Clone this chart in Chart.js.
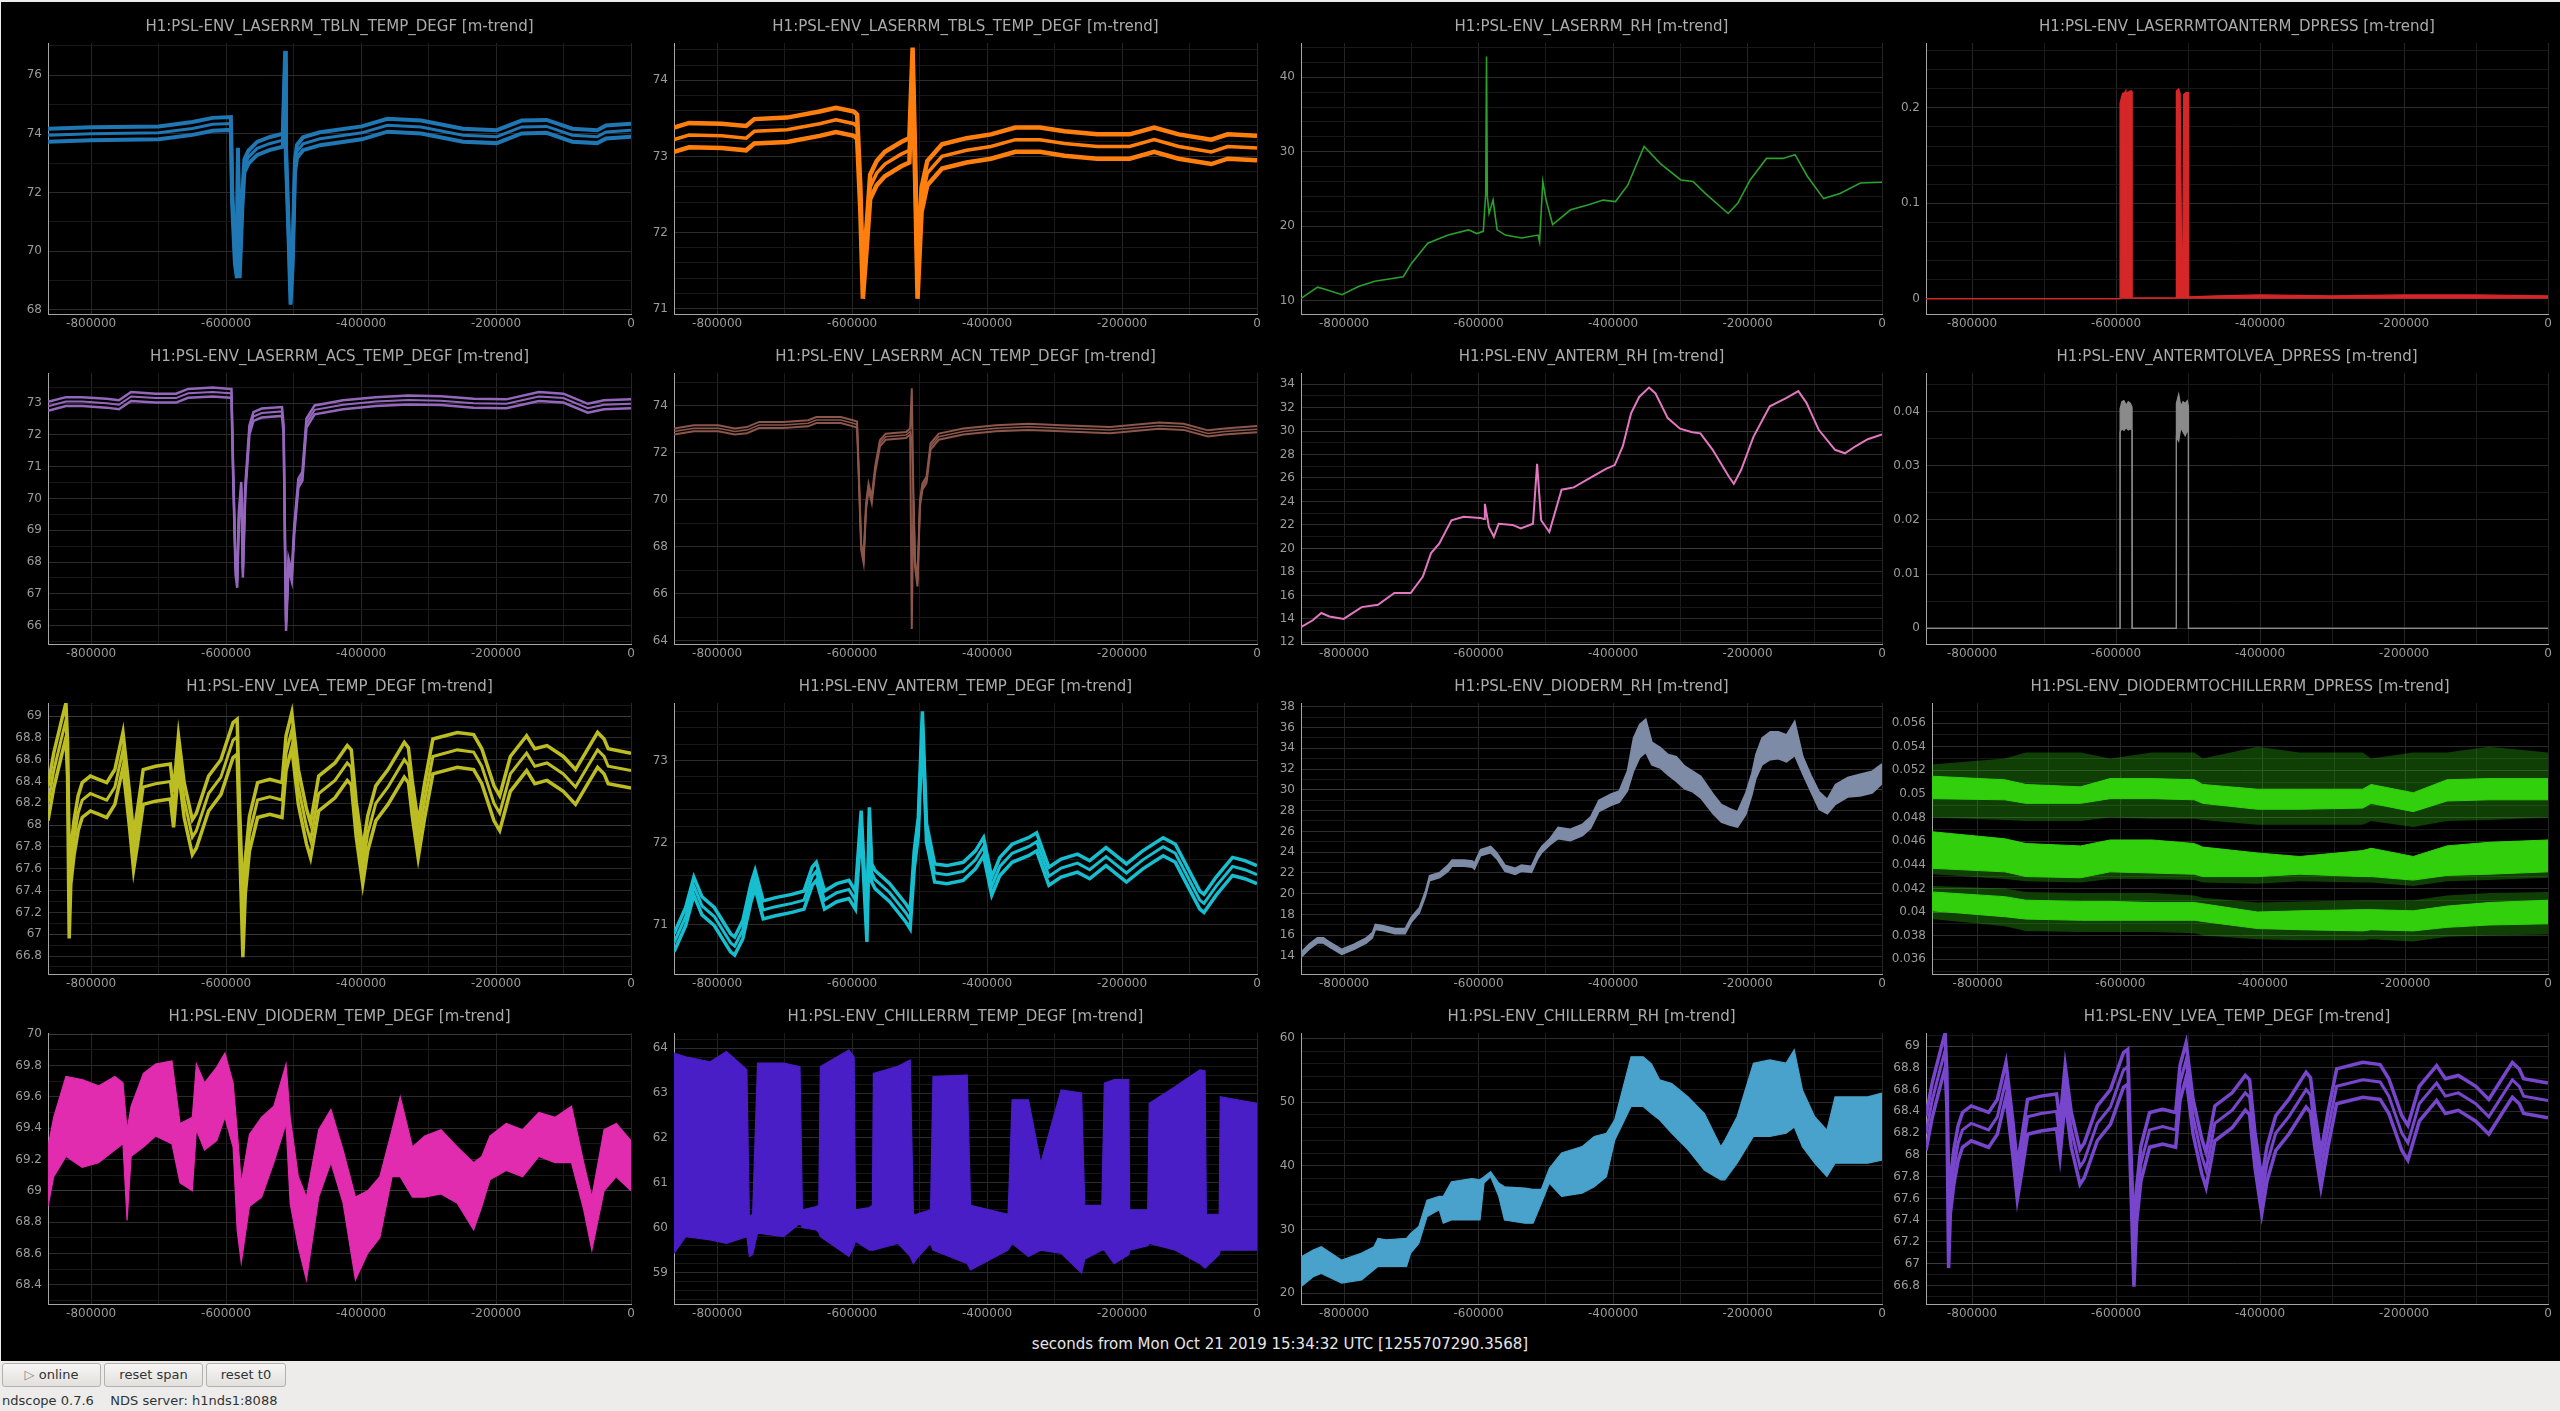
<!DOCTYPE html>
<html>
<head>
<meta charset="utf-8">
<title>ndscope</title>
<script src="https://cdn.jsdelivr.net/npm/chart.js@4.4.1/dist/chart.umd.min.js"></script>
<style>
  html, body { margin: 0; padding: 0; width: 2560px; height: 1411px; overflow: hidden;
    background: #edeceb; font-family: 'DejaVu Sans', sans-serif; }
  #scope { position: absolute; left: 1px; top: 2px; width: 2559px; height: 1359px; background: #000; }
  canvas.panel { position: absolute; }
  #xlabel { position: absolute; left: 0; top: 1335px; width: 2560px; text-align: center;
    color: #e6e6e6; font-size: 15px; line-height: 18px; }
  .btn { position: absolute; top: 1363px; height: 24px; box-sizing: border-box;
    border: 1px solid #b4b1ac; border-radius: 3px; background: linear-gradient(#f7f6f5, #e2e0dd);
    font-size: 13px; line-height: 22px; color: #2e3436; text-align: center; }
  #status { position: absolute; left: 2px; top: 1393px; font-size: 13px; color: #2e3436; white-space: pre; }
</style>
</head>
<body>
<div id="scope"></div>
<div id="xlabel">seconds from Mon Oct 21 2019 15:34:32 UTC [1255707290.3568]</div>
<div class="btn" style="left:2px;width:99px"><span style="color:#888">&#9655;</span> online</div>
<div class="btn" style="left:104px;width:99px">reset span</div>
<div class="btn" style="left:206px;width:80px">reset t0</div>
<div id="status">ndscope 0.7.6    NDS server: h1nds1:8088</div>
<script>
const FONT = "'DejaVu Sans', sans-serif"
Chart.defaults.font.family = FONT

// ---- time axis (seconds before t0) ----
const X_MIN = -864000
const X_LABELS = [-800000, -600000, -400000, -200000, 0]
const X_GRID = [-800000, -700000, -600000, -500000, -400000, -300000, -200000, -100000, 0]

// ---- LASERRM_TBLN_TEMP ----
const tblnX = [-864000,-800000,-700000,-650000,-620000,-593000,-591000,-587000,-584000,-582500,-580000,-576000,-573000,-567000,-554000,-536000,-516000,-512500,-511500,-507500,-504500,-501500,-498000,-495000,-486000,-461000,-399000,-361000,-311000,-249000,-199000,-162000,-125000,-87000,-50000,-37000,0]
const tblnMax = [74.17,74.22,74.25,74.4,74.54,74.57,72.02,70.02,69.52,73.52,69.52,71.92,73.12,73.42,73.72,73.88,74.0,76.82,73.72,70.92,68.62,69.92,73.12,73.62,73.88,74.05,74.25,74.51,74.45,74.17,74.12,74.45,74.47,74.17,74.12,74.28,74.34]
const tblnMean = [73.95,74.0,74.03,74.18,74.32,74.35,71.8,69.8,69.3,73.3,69.3,71.7,72.9,73.2,73.5,73.66,73.78,76.6,73.5,70.7,68.4,69.7,72.9,73.4,73.66,73.83,74.03,74.29,74.23,73.95,73.9,74.23,74.25,73.95,73.9,74.06,74.12]
const tblnMin = [73.73,73.78,73.81,73.96,74.1,74.13,71.58,69.58,69.08,73.08,69.08,71.48,72.68,72.98,73.28,73.44,73.56,76.38,73.28,70.48,68.18,69.48,72.68,73.18,73.44,73.61,73.81,74.07,74.01,73.73,73.68,74.01,74.03,73.73,73.68,73.84,73.9]

// ---- LASERRM_TBLS_TEMP ----
const tblsX = [-864000,-841700,-793400,-757100,-745000,-696600,-648200,-624000,-597400,-592600,-587800,-584100,-578100,-573300,-563600,-551500,-527300,-515200,-510400,-506700,-503100,-497100,-488600,-466800,-430500,-394300,-358000,-321700,-285400,-237000,-188700,-152400,-116100,-67700,-43500,0]
const tblsMax = [73.38,73.44,73.43,73.4,73.49,73.51,73.59,73.64,73.59,73.55,72.59,71.45,72.15,72.76,72.94,73.06,73.19,73.24,74.43,73.03,71.45,72.59,72.94,73.16,73.24,73.29,73.38,73.38,73.33,73.29,73.29,73.38,73.29,73.22,73.29,73.27]
const tblsMean = [73.22,73.28,73.27,73.24,73.33,73.35,73.43,73.48,73.43,73.39,72.43,71.29,71.99,72.6,72.78,72.9,73.03,73.08,74.27,72.87,71.29,72.43,72.78,73.0,73.08,73.13,73.22,73.22,73.17,73.13,73.13,73.22,73.13,73.06,73.13,73.11]
const tblsMin = [73.06,73.12,73.11,73.08,73.17,73.19,73.27,73.32,73.27,73.23,72.27,71.13,71.83,72.44,72.62,72.74,72.87,72.92,74.11,72.71,71.13,72.27,72.62,72.84,72.92,72.97,73.06,73.06,73.01,72.97,72.97,73.06,72.97,72.9,72.97,72.95]

// ---- LASERRM_RH ----
const lrhX = [-864000,-839300,-827200,-802900,-778600,-754300,-711900,-699800,-675500,-645100,-614800,-602700,-592900,-589300,-588100,-586900,-584400,-578400,-572300,-560200,-535900,-511600,-509200,-504400,-499500,-489800,-463100,-438800,-414500,-396300,-378100,-353800,-329600,-299200,-281000,-262800,-228800,-214300,-196100,-171800,-147500,-129300,-111100,-86800,-62500,-32200,0]
const lrhMean = [10.3,11.8,11.5,10.8,11.9,12.6,13.2,15.0,17.7,18.8,19.5,19.0,19.3,24.4,42.8,24.0,21.7,23.5,19.5,18.8,18.4,18.8,17.9,26.0,23.5,20.2,22.2,22.8,23.5,23.3,25.5,30.7,28.4,26.2,26.0,24.4,21.7,23.1,26.2,29.1,29.1,29.6,26.7,23.7,24.4,25.8,25.9]

// ---- LASERRMTOANTERM_DPRESS ----
const ldpX = [-864000,-594500,-594400,-591000,-588000,-586500,-586000,-585500,-582000,-579000,-577700,-577600,-540000,-516300,-516200,-513000,-511000,-509000,-507500,-506000,-503000,-499400,-499300,-460000,-400000,-300000,-200000,-100000,0]
const ldpMax = [0,0,0.205,0.215,0.216,0.218,0.045,0.216,0.217,0.218,0.217,0.001,0.001,0.001,0.218,0.22,0.215,0.05,0.012,0.214,0.216,0.216,0.002,0.003,0.004,0.003,0.004,0.004,0.003]

// ---- LASERRM_ACS_TEMP ----
const acsX = [-864000,-837400,-813300,-777000,-758900,-740800,-704500,-674300,-656300,-619900,-593300,-592100,-589700,-586000,-583600,-581200,-577600,-575200,-571600,-565500,-559500,-547400,-517200,-514800,-512400,-511200,-507500,-502700,-499100,-493000,-487000,-481000,-468900,-426600,-378200,-329900,-281600,-233200,-184900,-136500,-100300,-64000,-39900,0]
const acsMax = [73.04,73.19,73.19,73.14,73.09,73.35,73.3,73.3,73.45,73.49,73.45,73.45,71.04,67.89,67.47,69.57,70.52,67.79,70.41,72.3,72.72,72.83,72.88,72.3,68.1,66.11,68.1,67.68,69.14,70.62,70.84,72.51,72.93,73.09,73.19,73.24,73.22,73.14,73.12,73.35,73.3,72.98,73.09,73.12]
const acsMean = [72.9,73.05,73.05,73.0,72.95,73.21,73.16,73.16,73.31,73.35,73.31,73.31,70.9,67.75,67.33,69.43,70.38,67.65,70.27,72.16,72.58,72.69,72.74,72.16,67.96,65.97,67.96,67.54,69.0,70.48,70.7,72.37,72.79,72.95,73.05,73.1,73.08,73.0,72.98,73.21,73.16,72.84,72.95,72.98]
const acsMin = [72.76,72.91,72.91,72.86,72.81,73.07,73.02,73.02,73.17,73.21,73.17,73.17,70.76,67.61,67.19,69.29,70.24,67.51,70.13,72.02,72.44,72.55,72.6,72.02,67.82,65.83,67.82,67.4,68.86,70.34,70.56,72.23,72.65,72.81,72.91,72.96,72.94,72.86,72.84,73.07,73.02,72.7,72.81,72.84]

// ---- LASERRM_ACN_TEMP ----
const acnX = [-864000,-834600,-798300,-774100,-756000,-737800,-701500,-665200,-653100,-616800,-598700,-592700,-590200,-586600,-583000,-579400,-575700,-570900,-566000,-558800,-550300,-520100,-514000,-511600,-509200,-506800,-503200,-499500,-495900,-489800,-483800,-471700,-435400,-387000,-338700,-290300,-217700,-145100,-108900,-72600,-48400,0]
const acnMax = [73.03,73.17,73.17,73.03,73.09,73.31,73.31,73.38,73.52,73.52,73.38,73.33,71.25,68.13,67.56,69.83,70.68,70.12,71.39,72.53,72.81,72.88,73.03,74.74,70.26,67.43,66.57,69.97,70.68,70.97,72.39,72.81,73.03,73.17,73.23,73.17,73.09,73.28,73.23,72.95,73.03,73.13]
const acnMean = [72.9,73.04,73.04,72.9,72.96,73.18,73.18,73.25,73.39,73.39,73.25,73.2,71.12,68.0,67.43,69.7,70.55,69.99,71.26,72.4,72.68,72.75,72.9,72.5,70.13,67.3,66.44,69.84,70.55,70.84,72.26,72.68,72.9,73.04,73.1,73.04,72.96,73.15,73.1,72.82,72.9,73.0]
const acnMin = [72.77,72.91,72.91,72.77,72.83,73.05,73.05,73.12,73.26,73.26,73.12,73.07,70.99,67.87,67.3,69.57,70.42,69.86,71.13,72.27,72.55,72.62,72.77,64.5,70.0,67.17,66.31,69.71,70.42,70.71,72.13,72.55,72.77,72.91,72.97,72.91,72.83,73.02,72.97,72.69,72.77,72.87]

// ---- ANTERM_RH ----
const arhX = [-864000,-846000,-833800,-821700,-800500,-773800,-749500,-725200,-700900,-682800,-670600,-658500,-640300,-622100,-597800,-591800,-590600,-584500,-577200,-570000,-549300,-537200,-519000,-512900,-506900,-494700,-476500,-458300,-434000,-409800,-397500,-385400,-373200,-361100,-346500,-336800,-318600,-300400,-282200,-270000,-251800,-227600,-220300,-209400,-191200,-166900,-142600,-124400,-112300,-94100,-69800,-55200,-39400,-21200,0]
const arhMean = [13.3,13.9,14.5,14.2,14.0,15.0,15.2,16.2,16.2,17.6,19.6,20.4,22.4,22.7,22.6,22.5,23.8,21.8,21.0,22.1,22.0,21.7,22.1,27.2,22.4,21.4,25.0,25.2,26.0,26.8,27.1,28.7,31.5,32.9,33.7,33.2,31.1,30.2,29.9,29.8,28.4,26.1,25.5,26.7,29.5,32.1,32.8,33.4,32.4,30.1,28.4,28.1,28.7,29.3,29.7]

// ---- ANTERMTOLVEA_DPRESS ----
const adpX = [-864000,-594500,-594400,-592000,-589000,-586000,-583000,-580000,-577800,-577700,-516300,-516200,-513000,-510000,-507000,-504000,-501000,-499500,-499400,0]
const adpMax = [0,0,0.0405,0.0418,0.042,0.0412,0.0418,0.0415,0.0408,0,0,0.0415,0.0432,0.041,0.0418,0.0415,0.042,0.041,0,0]
const adpMin = [0,0,0.0362,0.0368,0.0365,0.037,0.0366,0.0368,0.0365,0,0,0.0352,0.0345,0.037,0.0362,0.0355,0.0365,0.036,0,0]

// ---- LVEA_TEMP ----
const lveaX = [-864000,-855500,-843500,-837400,-835000,-832600,-830200,-825300,-819300,-813300,-801200,-789100,-777000,-764900,-752900,-743200,-737200,-731200,-722900,-704500,-682700,-677900,-670700,-662200,-650100,-644100,-626000,-607800,-589700,-583700,-580000,-575200,-571600,-565500,-553400,-535300,-517200,-511200,-502700,-493000,-481000,-474900,-462800,-438700,-420500,-414500,-407200,-397600,-390300,-378200,-360100,-336000,-329900,-323900,-315400,-305700,-293600,-257400,-233200,-221100,-203000,-194600,-178800,-154700,-142600,-124500,-100300,-82200,-64000,-49500,-39900,-33800,0]
const lveaMax = [68.36,68.66,68.97,69.12,68.76,67.72,67.78,68.05,68.27,68.39,68.45,68.42,68.39,68.51,68.85,68.3,67.91,68.15,68.51,68.54,68.56,68.3,68.82,68.39,68.05,68.11,68.45,68.6,68.94,68.97,68.15,67.29,67.69,68.08,68.39,68.42,68.39,68.82,69.03,68.51,68.15,68.02,68.45,68.57,68.73,68.69,68.21,67.78,68.08,68.36,68.51,68.76,68.71,68.39,68.02,68.39,68.79,68.85,68.83,68.7,68.36,68.27,68.63,68.82,68.7,68.73,68.63,68.51,68.7,68.85,68.79,68.7,68.66]
const lveaMean = [68.2,68.5,68.81,68.96,68.6,67.56,67.62,67.89,68.11,68.23,68.29,68.26,68.23,68.35,68.69,68.14,67.75,67.99,68.35,68.38,68.4,68.14,68.66,68.23,67.89,67.95,68.29,68.44,68.78,68.81,67.99,67.13,67.53,67.92,68.23,68.26,68.23,68.66,68.87,68.35,67.99,67.86,68.29,68.41,68.57,68.53,68.05,67.62,67.92,68.2,68.35,68.6,68.55,68.23,67.86,68.23,68.63,68.69,68.67,68.54,68.2,68.11,68.47,68.66,68.54,68.57,68.47,68.35,68.54,68.69,68.63,68.54,68.5]
const lveaMin = [68.04,68.34,68.65,68.8,68.44,66.96,67.46,67.73,67.95,68.07,68.13,68.1,68.07,68.19,68.53,67.98,67.59,67.83,68.19,68.22,68.24,67.98,68.5,68.07,67.73,67.79,68.13,68.28,68.62,68.65,67.83,66.79,67.37,67.76,68.07,68.1,68.07,68.5,68.71,68.19,67.83,67.7,68.13,68.25,68.41,68.37,67.89,67.46,67.76,68.04,68.19,68.44,68.39,68.07,67.7,68.07,68.47,68.53,68.51,68.38,68.04,67.95,68.31,68.5,68.38,68.41,68.31,68.19,68.38,68.53,68.47,68.38,68.34]

// ---- ANTERM_TEMP ----
const atX = [-864000,-846700,-834600,-822500,-804300,-780100,-774100,-762000,-749900,-743800,-731800,-713600,-689400,-671300,-659200,-653100,-641000,-622900,-604800,-595100,-586600,-580600,-578100,-574500,-570900,-566000,-544300,-520100,-514000,-508000,-501900,-495900,-489800,-477700,-459600,-435400,-417300,-405200,-393100,-381000,-362900,-338700,-326600,-308400,-290300,-266100,-248000,-223800,-193500,-169300,-139100,-121000,-84700,-78600,-60500,-36300,-18100,0]
const atMax = [70.89,71.21,71.58,71.34,71.21,70.89,70.85,71.05,71.5,71.66,71.29,71.33,71.37,71.41,71.7,71.76,71.41,71.5,71.54,71.41,72.39,71.41,71.01,72.43,71.74,71.66,71.5,71.25,71.17,71.9,72.31,73.6,72.23,71.74,71.72,71.76,71.9,72.06,71.58,71.82,71.98,72.06,72.12,71.7,71.8,71.86,71.78,71.94,71.74,71.9,72.06,71.98,71.41,71.37,71.58,71.82,71.78,71.72]
const atMean = [70.78,71.1,71.47,71.23,71.1,70.78,70.74,70.94,71.39,71.55,71.18,71.22,71.26,71.3,71.59,71.65,71.3,71.39,71.43,71.3,72.28,71.3,70.9,72.32,71.63,71.55,71.39,71.14,71.06,71.79,72.2,73.49,72.12,71.63,71.61,71.65,71.79,71.95,71.47,71.71,71.87,71.95,72.01,71.59,71.69,71.75,71.67,71.83,71.63,71.79,71.95,71.87,71.3,71.26,71.47,71.71,71.67,71.61]
const atMin = [70.67,70.99,71.36,71.12,70.99,70.67,70.63,70.83,71.28,71.44,71.07,71.11,71.15,71.19,71.48,71.54,71.19,71.28,71.32,71.19,72.17,71.19,70.79,72.21,71.52,71.44,71.28,71.03,70.95,71.68,72.09,73.38,72.01,71.52,71.5,71.54,71.68,71.84,71.36,71.6,71.76,71.84,71.9,71.48,71.58,71.64,71.56,71.72,71.52,71.68,71.84,71.76,71.19,71.15,71.36,71.6,71.56,71.5]

// ---- DIODERM_RH ----
const drhX = [-864000,-851800,-839700,-830600,-821500,-803300,-785100,-766900,-757800,-753500,-742600,-724400,-709200,-700100,-688000,-678900,-672800,-657700,-645500,-639500,-621300,-609100,-606100,-597000,-581800,-572700,-560600,-545400,-536300,-521200,-512100,-506000,-493900,-481700,-463500,-445300,-433200,-421100,-402800,-390700,-378600,-369500,-360400,-351300,-342200,-330000,-317900,-305800,-293600,-281500,-269400,-251200,-239000,-226900,-214800,-202600,-193500,-187500,-178400,-166200,-154100,-142000,-129800,-117700,-105600,-93400,-81300,-69200,-51000,-32800,-14600,0]
const drhMax = [14.35,15.15,15.75,15.75,15.35,14.65,15.15,15.75,16.25,17.05,16.95,16.65,16.65,17.75,18.65,20.25,21.75,22.05,22.75,23.25,23.25,23.15,22.95,24.25,24.55,23.95,22.75,22.45,22.75,22.65,23.95,24.55,25.3,26.4,26.2,26.7,27.4,29.0,29.6,29.9,31.8,35.0,36.3,36.8,34.6,34.1,33.4,33.2,32.3,31.8,31.3,29.6,28.6,28.2,27.9,29.7,31.6,33.4,35.0,35.6,35.6,35.3,36.6,33.2,31.4,29.8,29.1,30.5,31.2,31.5,31.8,32.5]
const drhMin = [13.85,14.65,15.25,15.25,14.85,14.15,14.65,15.25,15.75,16.55,16.45,16.15,16.15,17.25,18.15,19.75,21.25,21.55,22.15,22.65,22.65,22.55,22.35,23.65,23.95,23.35,22.15,21.85,22.15,22.05,23.35,23.95,24.7,25.3,25.1,25.6,26.3,27.9,28.5,28.8,29.9,31.8,33.1,33.6,32.4,32.1,31.4,30.8,30.1,29.8,29.2,27.7,26.9,26.6,26.4,27.6,29.5,31.1,32.4,32.9,33.0,32.7,33.3,31.5,29.8,28.1,27.7,28.6,29.3,29.4,29.7,30.6]

// ---- DIODERMTOCHILLERRM_DPRESS (dense core + sparse fringe of each trend) ----
const ddpX = [-864000,-761900,-732300,-655600,-614200,-555200,-496100,-484300,-407500,-348500,-259900,-248100,-189000,-141700,-82700,0]
const ddpMaxFringeHi = [0.0525,0.053,0.0535,0.0535,0.053,0.0535,0.0535,0.053,0.054,0.0535,0.0535,0.053,0.0535,0.0535,0.054,0.0535]
const ddpMaxFringeLo = [0.048,0.0478,0.0477,0.0477,0.048,0.0479,0.0479,0.0478,0.0474,0.0474,0.0474,0.0477,0.0472,0.0477,0.0478,0.048]
const ddpMaxHi = [0.0515,0.0512,0.0508,0.0506,0.0513,0.0513,0.0512,0.0508,0.0504,0.0504,0.0504,0.0508,0.0501,0.0512,0.0513,0.0513]
const ddpMaxLo = [0.0496,0.0495,0.0492,0.0492,0.0496,0.0496,0.0495,0.0492,0.0487,0.0487,0.0488,0.0492,0.0485,0.0494,0.0495,0.0495]
const ddpMeanHi = [0.0468,0.0462,0.0458,0.0456,0.0461,0.0461,0.0458,0.0455,0.045,0.0447,0.0452,0.0454,0.0447,0.0456,0.0459,0.0461]
const ddpMeanLo = [0.0437,0.0434,0.043,0.0429,0.0434,0.0433,0.0432,0.043,0.043,0.0432,0.043,0.043,0.0427,0.0431,0.0432,0.0434]
const ddpMeanFringeLo = [0.0432,0.0428,0.0426,0.0425,0.0428,0.0428,0.0427,0.0425,0.0424,0.0426,0.0425,0.0425,0.0422,0.0426,0.0427,0.0429]
const ddpMinFringeHi = [0.0422,0.042,0.0417,0.0416,0.0416,0.0416,0.0414,0.0412,0.0408,0.0409,0.041,0.041,0.041,0.0414,0.0416,0.0417]
const ddpMinHi = [0.0417,0.0413,0.041,0.0409,0.0409,0.0408,0.0408,0.0407,0.04,0.0401,0.0402,0.0402,0.0401,0.0405,0.0408,0.041]
const ddpMinLo = [0.0401,0.0396,0.0394,0.0393,0.0393,0.0393,0.0393,0.0392,0.0386,0.0385,0.0384,0.0385,0.0384,0.0387,0.0389,0.039]
const ddpMinFringeLo = [0.0394,0.0388,0.0384,0.0383,0.0383,0.0383,0.0382,0.038,0.0377,0.0376,0.0376,0.0377,0.0375,0.0379,0.038,0.0381]

// ---- DIODERM_TEMP ----
const dtX = [-864000,-855500,-837400,-813300,-789100,-764900,-752900,-746800,-740800,-722600,-704500,-680300,-668300,-650100,-644100,-632000,-613900,-601800,-589700,-583700,-577600,-565500,-547400,-529300,-511200,-505100,-493000,-481000,-462800,-444700,-426600,-408400,-390300,-372200,-354100,-342000,-323900,-305700,-281600,-257400,-233200,-221100,-209100,-184900,-160700,-136500,-112400,-88200,-70100,-58000,-39900,-21800,0]
const dtMax = [69.28,69.47,69.73,69.71,69.67,69.73,69.69,69.39,69.54,69.75,69.81,69.83,69.43,69.47,69.81,69.69,69.79,69.88,69.69,69.39,69.05,69.36,69.47,69.54,69.81,69.47,69.09,68.96,69.39,69.52,69.26,68.96,69.0,69.09,69.39,69.6,69.28,69.35,69.39,69.28,69.18,69.22,69.35,69.43,69.39,69.5,69.47,69.54,69.18,68.96,69.39,69.43,69.32]
const dtMin = [68.9,69.09,69.22,69.15,69.18,69.26,69.3,68.81,69.22,69.28,69.35,69.3,69.05,69.0,69.39,69.26,69.32,69.47,69.28,68.75,68.54,68.9,68.96,69.18,69.43,68.92,68.64,68.43,68.96,69.18,68.92,68.43,68.6,68.7,69.09,69.09,68.96,68.96,68.98,68.92,68.75,68.9,69.07,69.13,69.09,69.22,69.18,69.18,68.88,68.62,69.0,69.09,69.0]

// ---- CHILLERRM_TEMP ----
const ctX = [-864000,-846700,-810400,-786200,-756000,-752300,-747500,-740200,-701500,-677300,-673700,-653100,-649500,-647100,-604800,-597000,-595100,-574500,-570000,-568500,-532200,-514000,-509200,-505000,-483800,-480200,-429400,-424500,-368900,-362900,-338700,-320500,-290300,-260000,-255200,-230000,-226200,-211700,-190000,-188700,-162000,-159700,-121000,-84700,-77000,-75000,-56000,-54400,0]
const ctMax = [63.89,63.81,63.7,63.93,63.52,60.25,60.3,63.67,63.67,63.59,60.4,60.47,60.5,63.59,63.96,63.8,60.4,60.45,60.5,63.44,63.6,63.74,60.3,60.3,60.4,63.37,63.4,60.5,60.3,62.85,62.85,61.44,63.07,63.0,60.5,60.5,63.22,63.3,63.3,60.4,60.4,62.77,63.15,63.52,63.5,60.3,60.3,62.92,62.77]
const ctMin = [59.43,59.8,59.73,59.65,59.8,59.36,59.4,59.88,59.8,60.1,60.0,59.95,59.9,59.8,59.36,59.6,59.7,59.5,59.5,59.5,59.65,59.36,59.2,59.3,59.65,59.5,59.2,59.06,59.5,59.65,59.36,59.5,59.43,58.99,59.3,59.5,59.5,59.2,59.4,59.5,59.6,59.65,59.5,59.2,59.1,59.13,59.4,59.5,59.5]

// ---- CHILLERRM_RH ----
const crhX = [-864000,-846000,-833800,-803500,-773800,-755600,-749500,-737400,-707000,-700900,-688800,-676700,-658500,-652400,-640300,-609900,-597800,-591800,-582000,-569900,-561400,-531100,-518900,-506700,-494700,-476500,-446100,-427900,-409800,-397500,-373200,-355000,-342900,-330700,-312600,-288300,-264000,-239700,-233700,-215500,-191200,-166900,-142600,-130500,-118300,-100100,-81900,-69800,-45500,-21200,0]
const crhMax = [25.7,26.8,27.3,25.2,26.3,27.3,28.6,28.4,28.6,29.4,30.5,34.6,35.2,35.2,37.5,38.0,37.8,38.3,39.1,37.3,36.7,36.5,36.3,36.3,39.6,42.0,43.0,44.6,45.1,47.2,57.1,57.1,56.0,53.5,52.9,50.8,48.2,43.0,44.0,47.7,56.1,56.6,56.1,58.2,51.9,47.7,45.6,50.8,50.8,50.8,51.4]
const crhMin = [21.0,22.6,23.1,21.6,22.1,23.7,24.2,24.2,24.2,26.3,27.8,32.0,33.1,31.0,31.5,31.5,31.5,37.3,38.3,35.2,31.5,31.0,31.0,34.1,37.3,35.2,35.7,36.7,38.3,44.0,49.3,49.3,48.2,47.2,45.1,42.5,39.3,37.8,37.8,40.4,44.6,44.6,45.1,46.1,43.0,40.4,38.3,40.4,40.4,40.4,40.9]

// ---- y tick labels per panel ----
const yTicks1 = [68, 70, 72, 74, 76]
const yTicks2 = [71, 72, 73, 74]
const yTicks3 = [10, 20, 30, 40]
const yTicks4 = [0, 0.1, 0.2]
const yTicks5 = [66, 67, 68, 69, 70, 71, 72, 73]
const yTicks6 = [64, 66, 68, 70, 72, 74]
const yTicks7 = [12, 14, 16, 18, 20, 22, 24, 26, 28, 30, 32, 34]
const yTicks8 = [0, 0.01, 0.02, 0.03, 0.04]
const yTicksLvea = [66.8, 67, 67.2, 67.4, 67.6, 67.8, 68, 68.2, 68.4, 68.6, 68.8, 69]
const yTicks10 = [71, 72, 73]
const yTicks11 = [14, 16, 18, 20, 22, 24, 26, 28, 30, 32, 34, 36, 38]
const yTicks12 = [0.036, 0.038, 0.04, 0.042, 0.044, 0.046, 0.048, 0.05, 0.052, 0.054, 0.056]
const yTicks13 = [68.4, 68.6, 68.8, 69, 69.2, 69.4, 69.6, 69.8, 70]
const yTicks14 = [59, 60, 61, 62, 63, 64]
const yTicks15 = [20, 30, 40, 50, 60]

// ---- layout of the 4x4 grid (window pixels) ----
const COL_LEFT = [48, 674, 1301, 1926]
const COL_RIGHT = [631, 1257, 1882, 2548]
const ROW_TOP = [43, 373, 703, 1033]
const PLOT_H = 271
const Y_AXIS_W = 46
const TITLE_ROOM = 36
const X_AXIS_H = 22

const pts = (xs, ys) => xs.map((x, i) => ({ x, y: ys[i] }))
const line = (xs, ys, color, width) => ({ data: pts(xs, ys), borderColor: color, borderWidth: width, fill: false })
const trend3 = (xs, mn, mean, mx, color, wEdge, wMean) => [
  line(xs, mn, color, wEdge), line(xs, mean, color, wMean), line(xs, mx, color, wEdge),
]
// two bounds, area between them filled
const band = (xs, lo, hi, color, fillColor, w = 1) => [
  { data: pts(xs, lo), borderColor: color, borderWidth: w, fill: false },
  { data: pts(xs, hi), borderColor: color, borderWidth: w, fill: '-1', backgroundColor: fillColor || color },
]

const GREEN = '#31cf0c', GREEN_A = 'rgba(49,207,12,0.3)'

const panels = [
  { title: 'H1:PSL-ENV_LASERRM_TBLN_TEMP_DEGF [m-trend]', col: 0, row: 0, yMin: 67.86, yMax: 77.09, yTicks: yTicks1, yMinor: 1,
    datasets: trend3(tblnX, tblnMin, tblnMean, tblnMax, '#1f77b4', 4, 3) },
  { title: 'H1:PSL-ENV_LASERRM_TBLS_TEMP_DEGF [m-trend]', col: 1, row: 0, yMin: 70.93, yMax: 74.49, yTicks: yTicks2, yMinor: 0.2,
    datasets: trend3(tblsX, tblsMin, tblsMean, tblsMax, '#ff7f0e', 4.5, 3.5) },
  { title: 'H1:PSL-ENV_LASERRM_RH [m-trend]', col: 2, row: 0, yMin: 8.2, yMax: 44.6, yTicks: yTicks3, yMinor: 2,
    datasets: [line(lrhX, lrhMean, '#2ca02c', 1.6)] },
  { title: 'H1:PSL-ENV_LASERRMTOANTERM_DPRESS [m-trend]', col: 3, row: 0, yMin: -0.016, yMax: 0.268, yTicks: yTicks4, yMinor: 0.02,
    datasets: [{ data: pts(ldpX, ldpMax), borderColor: '#d62728', borderWidth: 1.3, fill: 'origin', backgroundColor: '#d62728' }] },

  { title: 'H1:PSL-ENV_LASERRM_ACS_TEMP_DEGF [m-trend]', col: 0, row: 1, yMin: 65.42, yMax: 73.95, yTicks: yTicks5, yMinor: 0.5,
    datasets: trend3(acsX, acsMin, acsMean, acsMax, '#9467bd', 2.5, 2) },
  { title: 'H1:PSL-ENV_LASERRM_ACN_TEMP_DEGF [m-trend]', col: 1, row: 1, yMin: 63.86, yMax: 75.39, yTicks: yTicks6, yMinor: 1,
    datasets: trend3(acnX, acnMin, acnMean, acnMax, '#8c564b', 2, 1.5) },
  { title: 'H1:PSL-ENV_ANTERM_RH [m-trend]', col: 2, row: 1, yMin: 11.86, yMax: 34.94, yTicks: yTicks7, yMinor: 1, yEmph: 10,
    datasets: [line(arhX, arhMean, '#e377c2', 2)] },
  { title: 'H1:PSL-ENV_ANTERMTOLVEA_DPRESS [m-trend]', col: 3, row: 1, yMin: -0.0029, yMax: 0.0471, yTicks: yTicks8, yMinor: 0.005,
    datasets: band(adpX, adpMin, adpMax, '#8a8a8a', '#8a8a8a', 1.2) },

  { title: 'H1:PSL-ENV_LVEA_TEMP_DEGF [m-trend]', col: 0, row: 2, yMin: 66.635, yMax: 69.12, yTicks: yTicksLvea, yMinor: 0.1, yEmph: 1,
    datasets: trend3(lveaX, lveaMin, lveaMean, lveaMax, '#bcbd22', 3.5, 3) },
  { title: 'H1:PSL-ENV_ANTERM_TEMP_DEGF [m-trend]', col: 1, row: 2, yMin: 70.4, yMax: 73.7, yTicks: yTicks10, yMinor: 0.2,
    datasets: trend3(atX, atMin, atMean, atMax, '#17becf', 3.5, 3) },
  { title: 'H1:PSL-ENV_DIODERM_RH [m-trend]', col: 2, row: 2, yMin: 12.27, yMax: 38.36, yTicks: yTicks11, yMinor: 1, yEmph: 10,
    datasets: band(drhX, drhMin, drhMax, '#7d8ba6', '#7d8ba6', 1.5) },
  { title: 'H1:PSL-ENV_DIODERMTOCHILLERRM_DPRESS [m-trend]', col: 3, row: 2, plotLeft: 1932, yMin: 0.03475, yMax: 0.0577, yTicks: yTicks12, yMinor: 0.001, yEmph: 0.01,
    datasets: [
      ...band(ddpX, ddpMaxFringeLo, ddpMaxFringeHi, 'rgba(0,0,0,0)', GREEN_A, 0),
      ...band(ddpX, ddpMaxLo, ddpMaxHi, GREEN, GREEN, 1),
      ...band(ddpX, ddpMeanFringeLo, ddpMeanHi, 'rgba(0,0,0,0)', GREEN_A, 0),
      ...band(ddpX, ddpMeanLo, ddpMeanHi, GREEN, GREEN, 1),
      ...band(ddpX, ddpMinFringeLo, ddpMinFringeHi, 'rgba(0,0,0,0)', GREEN_A, 0),
      ...band(ddpX, ddpMinLo, ddpMinHi, GREEN, GREEN, 1),
    ] },

  { title: 'H1:PSL-ENV_DIODERM_TEMP_DEGF [m-trend]', col: 0, row: 3, yMin: 68.277, yMax: 70.008, yTicks: yTicks13, yMinor: 0.1, yEmph: 1,
    datasets: band(dtX, dtMin, dtMax, '#e22cb0', '#e22cb0', 1.2) },
  { title: 'H1:PSL-ENV_CHILLERRM_TEMP_DEGF [m-trend]', col: 1, row: 3, yMin: 58.3, yMax: 64.34, yTicks: yTicks14, yMinor: 0.2,
    datasets: band(ctX, ctMin, ctMax, '#4a1ec6', '#4a1ec6', 1.2) },
  { title: 'H1:PSL-ENV_CHILLERRM_RH [m-trend]', col: 2, row: 3, yMin: 18.32, yMax: 60.83, yTicks: yTicks15, yMinor: 2,
    datasets: band(crhX, crhMin, crhMax, '#48a2cc', '#48a2cc', 1.2) },
  { title: 'H1:PSL-ENV_LVEA_TEMP_DEGF [m-trend]', col: 3, row: 3, yMin: 66.63, yMax: 69.12, yTicks: yTicksLvea, yMinor: 0.1, yEmph: 1,
    datasets: trend3(lveaX, lveaMin, lveaMean, lveaMax, '#7746cc', 3.5, 3) },
]

// title centred over the plot area, like ndscope
const panelTitle = {
  id: 'panelTitle',
  afterDraw(chart, args, opts) {
    const { ctx, chartArea: a } = chart
    ctx.save()
    ctx.font = `15px ${FONT}`
    ctx.fillStyle = '#ababab'
    ctx.textAlign = 'center'
    ctx.textBaseline = 'middle'
    ctx.fillText(opts.text, (a.left + a.right) / 2, a.top - 16)
    ctx.restore()
  },
}

const near = (v, list, eps) => list.some(t => Math.abs(t - v) < eps)
const onStep = (v, step) => !!step && Math.abs(v / step - Math.round(v / step)) < 1e-6

function yGridValues(p) {
  const out = []
  const k0 = Math.ceil(p.yMin / p.yMinor - 1e-9), k1 = Math.floor(p.yMax / p.yMinor + 1e-9)
  for (let k = k0; k <= k1; k++) out.push(+(k * p.yMinor).toFixed(6))
  return out
}

function makePanel(p) {
  const plotLeft = p.plotLeft ?? COL_LEFT[p.col]
  const left = plotLeft - Y_AXIS_W
  const top = ROW_TOP[p.row] - TITLE_ROOM
  const width = COL_RIGHT[p.col] - left + 12
  const height = TITLE_ROOM + PLOT_H + X_AXIS_H

  const canvas = document.createElement('canvas')
  canvas.className = 'panel'
  canvas.width = width
  canvas.height = height
  canvas.style.left = left + 'px'
  canvas.style.top = top + 'px'
  document.body.appendChild(canvas)

  const yGrid = yGridValues(p)
  const eps = p.yMinor * 1e-3
  p.datasets.forEach(d => { d.pointRadius = 0; d.tension = 0 })

  return new Chart(canvas, {
    type: 'line',
    data: { datasets: p.datasets },
    plugins: [panelTitle],
    options: {
      responsive: false,
      animation: false,
      events: [],
      layout: { padding: { top: TITLE_ROOM, right: 12, left: 0, bottom: 0 } },
      plugins: { legend: { display: false }, tooltip: { enabled: false }, panelTitle: { text: p.title } },
      scales: {
        x: {
          type: 'linear', min: X_MIN, max: 0,
          afterBuildTicks: s => { s.ticks = X_GRID.map(v => ({ value: v })) },
          afterFit: s => { s.height = X_AXIS_H },
          ticks: { color: '#9b9b9b', font: { size: 12 }, padding: 3, maxRotation: 0, autoSkip: false,
            callback: v => X_LABELS.includes(v) ? String(v) : '' },
          grid: { drawTicks: false, color: c => X_LABELS.includes(c.tick.value) ? '#252525' : '#1b1b1b' },
          border: { color: '#a5a5a5', width: 1 },
        },
        y: {
          type: 'linear', min: p.yMin, max: p.yMax,
          afterBuildTicks: s => { s.ticks = yGrid.map(v => ({ value: v })) },
          afterFit: s => { s.width = Y_AXIS_W },
          ticks: { color: '#9b9b9b', font: { size: 12 }, padding: 6, autoSkip: false,
            callback: v => near(v, p.yTicks, eps) ? String(+v.toFixed(4)) : '' },
          grid: { drawTicks: false, color: c => {
            const v = c.tick.value
            if (onStep(v, p.yEmph)) return '#3a3a3a'
            return near(v, p.yTicks, eps) ? '#2b2b2b' : '#171717'
          } },
          border: { color: '#a5a5a5', width: 1 },
        },
      },
    },
  })
}

panels.forEach(makePanel)
</script>
</body>
</html>
